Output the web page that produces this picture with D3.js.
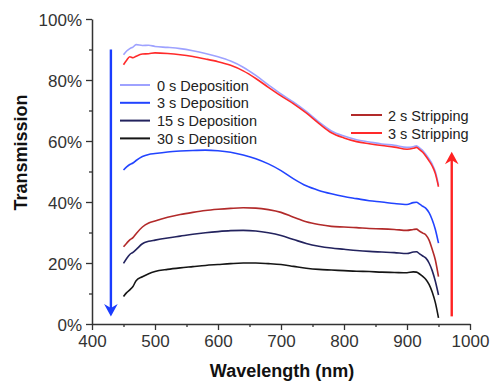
<!DOCTYPE html>
<html>
<head>
<meta charset="utf-8">
<script src="https://cdn.jsdelivr.net/npm/d3@7"></script>
<style>
  html, body { margin: 0; padding: 0; background: #fff; }
  svg { display: block; font-family: Arial, "Liberation Sans", sans-serif; }
</style>
</head>
<body>
<svg id="chart" width="492" height="381"></svg>
<script>
// ---- data ----
const wavelength = [450,455,460,465,470,480,490,500,520,540,560,580,600,620,640,660,680,700,720,740,760,780,800,820,840,860,880,900,910,915,920,925,930,935,940,945,950];

const dep0  = [88.3,89.5,90.3,90.8,91.6,91.3,91.4,91.0,90.7,90.3,89.6,88.7,87.6,86.2,84.2,81.5,78.4,75.4,72.7,69.7,66.3,63.3,61.6,60.4,59.7,59.0,58.6,57.9,58.1,58.4,57.7,56.9,55.6,54.1,52.4,49.9,45.5];
const strip3= [85.0,86.5,87.6,87.3,87.8,88.5,88.6,88.9,88.7,88.3,87.7,86.9,86.0,84.8,83.0,80.5,77.6,74.8,72.2,69.2,65.8,62.7,61.0,59.8,59.1,58.5,58.0,57.3,57.6,57.9,57.2,56.3,55.0,53.5,51.8,49.3,45.0];
const dep3  = [50.5,51.5,52.3,52.8,53.6,54.9,55.6,55.9,56.4,56.7,56.9,57.0,56.8,56.3,55.4,54.2,52.5,50.3,47.6,45.3,43.8,42.7,41.8,41.1,40.4,40.0,39.5,39.2,39.8,39.9,39.3,38.6,37.9,36.5,34.2,31.0,26.5];
const strip2= [25.3,26.5,27.6,28.3,29.6,31.8,33.1,33.8,35.0,35.9,36.6,37.2,37.6,37.9,38.1,38.0,37.5,36.6,35.0,33.5,32.6,32.0,31.8,31.6,31.3,31.2,31.0,30.7,31.0,31.1,30.4,29.8,29.2,27.5,24.5,21.0,15.5];
const dep15 = [19.9,21.5,22.8,23.5,24.4,26.3,27.1,27.5,28.2,28.8,29.4,29.9,30.3,30.6,30.7,30.5,29.9,29.0,27.7,26.4,25.5,24.9,24.5,24.1,23.8,23.6,23.4,23.1,23.6,23.7,23.0,22.3,21.6,20.0,17.5,14.0,9.5];
const dep30 = [9.0,10.3,11.2,12.3,14.2,15.5,16.5,17.2,17.9,18.4,18.8,19.2,19.5,19.8,20.0,20.0,19.8,19.5,18.9,18.3,17.9,17.7,17.5,17.3,17.2,17.0,16.9,16.8,17.1,17.0,16.4,15.6,14.6,13.0,10.5,7.0,2.0];

const seriesNames  = ["0 s Deposition","3 s Deposition","15 s Deposition","30 s Deposition","2 s Stripping","3 s Stripping"];
const seriesValues = [dep0, dep3, dep15, dep30, strip2, strip3];
const seriesColors = ["#9ea2ff","#2244ff","#23235e","#151515","#b22a2a","#ff2a2a"];

const xTicks = [400,500,600,700,800,900,1000];
const xMinor = [450,550,650,750,850,950];
const yTicks = [0,20,40,60,80,100];
const yMinor = [10,30,50,70,90];

// arrows (data coords)
const depArrow   = {x: 430, from: 90, to: 2.5};
const stripArrow = {x: 971, from: 2.5, to: 56.5};

// ---- drawing ----
const svg = d3.select("#chart");
const x = d3.scaleLinear().domain([400, 1000]).range([92, 470]);
const y = d3.scaleLinear().domain([0, 100]).range([324, 19]);
const axisColor = "#333";

// minor ticks
svg.append("g").attr("transform", "translate(0,324)")
  .call(d3.axisBottom(x).tickValues(xMinor).tickSize(3).tickFormat(""))
  .call(g => g.select(".domain").remove())
  .call(g => g.selectAll("line").attr("stroke", axisColor).attr("stroke-width", 1.3));
svg.append("g").attr("transform", "translate(92,0)")
  .call(d3.axisLeft(y).tickValues(yMinor).tickSize(3).tickFormat(""))
  .call(g => g.select(".domain").remove())
  .call(g => g.selectAll("line").attr("stroke", axisColor).attr("stroke-width", 1.3));

// major axes
const xAxis = svg.append("g").attr("transform", "translate(0,324)")
  .call(d3.axisBottom(x).tickValues(xTicks).tickSize(6).tickSizeOuter(0).tickPadding(5).tickFormat(d3.format("d")));
const yAxis = svg.append("g").attr("transform", "translate(92,0)")
  .call(d3.axisLeft(y).tickValues(yTicks).tickSize(6).tickSizeOuter(0).tickPadding(4).tickFormat(d => d + "%"));
[xAxis, yAxis].forEach(g => {
  g.select(".domain").attr("stroke", axisColor).attr("stroke-width", 1.5);
  g.selectAll(".tick line").attr("stroke", axisColor).attr("stroke-width", 1.3);
  g.selectAll(".tick text").attr("fill", "#333").style("font-size", "17px")
    .style("font-family", "Arial, 'Liberation Sans', sans-serif");
});
yAxis.selectAll(".tick text").attr("dy", "0.36em");

// titles
svg.append("text").attr("x", 282).attr("y", 376.5).attr("text-anchor", "middle")
  .style("font-size", "18px").style("font-weight", "bold").attr("fill", "#111")
  .text("Wavelength (nm)");
svg.append("text").attr("transform", "translate(27,152.5) rotate(-90)").attr("text-anchor", "middle")
  .style("font-size", "18px").style("font-weight", "bold").attr("fill", "#111")
  .text("Transmission");

// curves
const line = d3.line().curve(d3.curveMonotoneX).x((d, i) => x(wavelength[i])).y(d => y(d));
const drawOrder = [0, 5, 1, 4, 2, 3];
drawOrder.forEach(i => {
  svg.append("path").datum(seriesValues[i])
    .attr("fill", "none").attr("stroke", seriesColors[i])
    .attr("stroke-width", 1.6).attr("stroke-linejoin", "round")
    .attr("d", line);
});

// legends
const leftLegend = [0, 1, 2, 3];
const rightLegend = [4, 5];
leftLegend.forEach((si, k) => {
  const ly = 85 + k * 17.8;
  svg.append("line").attr("x1", 120).attr("x2", 150).attr("y1", ly).attr("y2", ly)
    .attr("stroke", seriesColors[si]).attr("stroke-width", 2);
  svg.append("text").attr("x", 157).attr("y", ly + 5.5).style("font-size", "14.5px")
    .attr("fill", "#222").text(seriesNames[si]);
});
rightLegend.forEach((si, k) => {
  const ly = 115 + k * 18;
  svg.append("line").attr("x1", 351).attr("x2", 382).attr("y1", ly).attr("y2", ly)
    .attr("stroke", seriesColors[si]).attr("stroke-width", 2);
  svg.append("text").attr("x", 388).attr("y", ly + 5.5).style("font-size", "14.5px")
    .attr("fill", "#222").text(seriesNames[si]);
});

// arrows
function arrow(a, color, down) {
  const ax = x(a.x), y0 = y(a.from), y1 = y(a.to);
  const dir = down ? 1 : -1;
  const headLen = 12.5, headW = 6.8, notch = 4;
  svg.append("line").attr("x1", ax).attr("x2", ax).attr("y1", y0).attr("y2", y1 - dir * notch - dir * 4)
    .attr("stroke", color).attr("stroke-width", 2.4);
  const pts = [[ax, y1], [ax - headW, y1 - dir * headLen], [ax, y1 - dir * (headLen - notch)], [ax + headW, y1 - dir * headLen]];
  svg.append("polygon").attr("points", pts.map(p => p.join(",")).join(" ")).attr("fill", color);
}
arrow(depArrow, "#1a3cff", true);
arrow(stripArrow, "#ff2222", false);
</script>
</body>
</html>
